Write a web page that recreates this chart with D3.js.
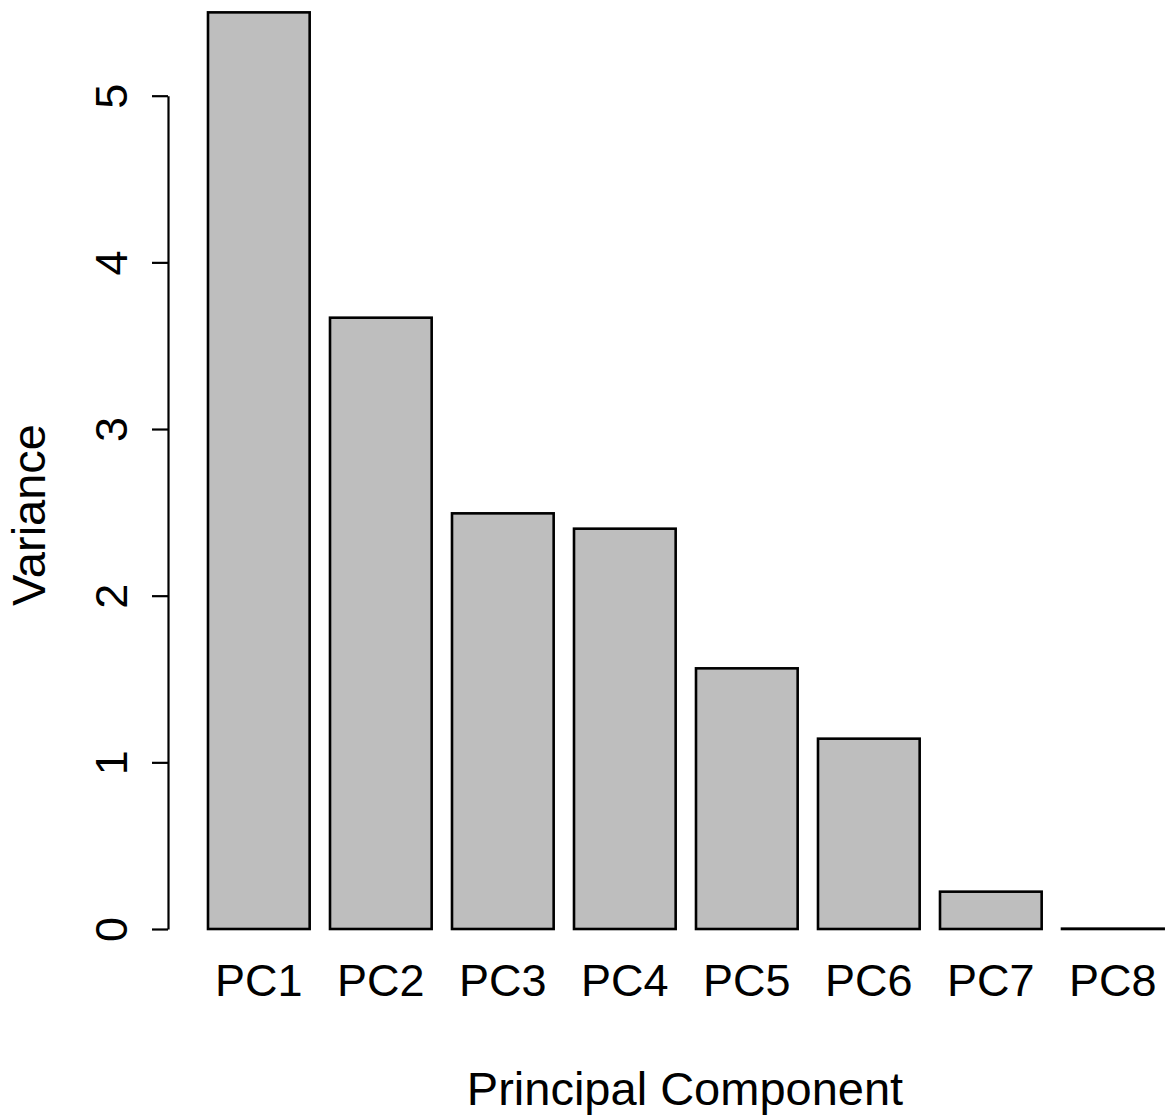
<!DOCTYPE html>
<html>
<head>
<meta charset="utf-8">
<script src="https://cdn.jsdelivr.net/npm/d3@7"></script>
<style>
  body { margin: 0; background: #fff; }
  text { font-family: "Liberation Sans", Arial, sans-serif; fill: #000; }
</style>
</head>
<body>
<div id="viz"></div>
<script>
// components and their variances
var components = ["PC1", "PC2", "PC3", "PC4", "PC5", "PC6", "PC7", "PC8"];
var variances = [5.50, 3.668, 2.494, 2.402, 1.564, 1.142, 0.224, 0.002];
var yTicks = [0, 1, 2, 3, 4, 5];

var width = 1168, height = 1118;

var svg = d3.select("#viz")
    .append("svg")
    .attr("width", width)
    .attr("height", height);

// R barplot style: width 1, space 0.2
var step = 122;
var x = d3.scaleBand()
    .domain(components)
    .range([208 - step / 12, 208 - step / 12 + step * components.length])
    .paddingInner(1 / 6)
    .paddingOuter(1 / 12);

var y = d3.scaleLinear()
    .domain([0, 5])
    .range([929, 95.7]);

// bars
svg.selectAll("rect.bar")
    .data(components)
    .enter()
    .append("rect")
    .attr("class", "bar")
    .attr("x", function (d) { return x(d); })
    .attr("y", function (d, i) { return y(variances[i]); })
    .attr("width", x.bandwidth())
    .attr("height", function (d, i) { return y(0) - y(variances[i]); })
    .style("fill", "#bebebe")
    .style("stroke", "#000")
    .style("stroke-width", 2.6);

// y axis
var yAxis = svg.append("g")
    .attr("transform", "translate(168,0)")
    .call(d3.axisLeft(y).tickValues(yTicks).tickSize(16).tickSizeOuter(0).tickFormat(d3.format("d")));

yAxis.select(".domain").style("stroke-width", 2.2);
yAxis.selectAll(".tick line").style("stroke-width", 2.2);
yAxis.selectAll(".tick text")
    .attr("x", 0)
    .attr("dy", 0)
    .attr("transform", "translate(-41,0) rotate(-90)")
    .style("text-anchor", "middle")
    .style("font-size", "45px")
    .style("font-family", "'Liberation Sans', Arial, sans-serif");

// x labels under each bar
svg.selectAll("text.xlab")
    .data(components)
    .enter()
    .append("text")
    .attr("class", "xlab")
    .attr("x", function (d) { return x(d) + x.bandwidth() / 2; })
    .attr("y", 996)
    .style("text-anchor", "middle")
    .style("font-size", "45px")
    .text(function (d) { return d; });

// axis titles
svg.append("text")
    .attr("x", 685)
    .attr("y", 1105)
    .style("text-anchor", "middle")
    .style("font-size", "47px")
    .text("Principal Component");

svg.append("text")
    .attr("transform", "translate(45,515) rotate(-90)")
    .style("text-anchor", "middle")
    .style("font-size", "47px")
    .text("Variance");
</script>
</body>
</html>
